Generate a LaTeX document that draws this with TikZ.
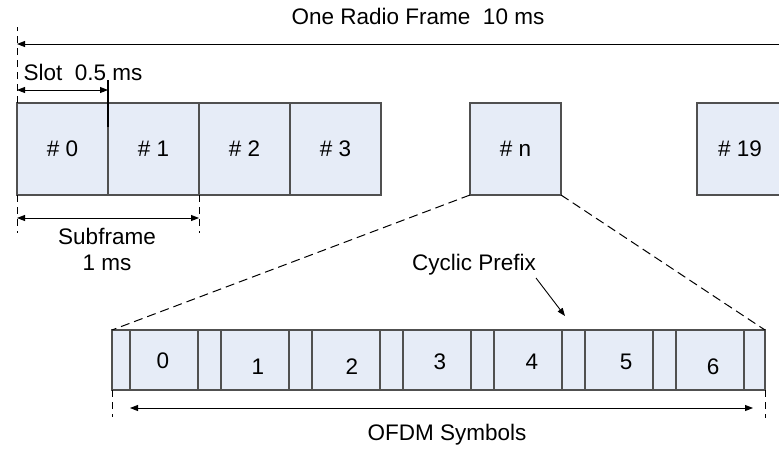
\documentclass[tikz,border=0pt]{standalone}
\usepackage{fontspec}
\setmainfont{Liberation Sans}
\usetikzlibrary{arrows.meta,positioning}
\definecolor{slotfill}{HTML}{E6ECF7}
\definecolor{slotline}{HTML}{505050}

\begin{document}
\begin{tikzpicture}[x=1pt,y=-1pt,
  every node/.style = {font=\fontsize{22.5}{26}\selectfont},
  slot/.style = {draw=slotline, line width=1.2pt, fill=slotfill,
    minimum width=91pt, minimum height=92pt, inner sep=0pt,
    outer sep=0pt, anchor=north west},
  symrow/.style = {draw=slotline, line width=1.2pt, fill=slotfill,
    minimum width=653pt, minimum height=60pt, inner sep=0pt,
    outer sep=0pt, anchor=north west},
  sym/.style = {draw=slotline, line width=1.1pt, fill=slotfill,
    minimum width=68pt, minimum height=60pt, inner sep=0pt,
    outer sep=0pt, anchor=north west},
  dim/.style = {line width=0.9pt, {Triangle[length=8pt,width=6pt]}-{Triangle[length=8pt,width=6pt]}},
  guide/.style = {line width=0.9pt, dash pattern=on 7pt off 5pt},
  zoomline/.style = {line width=1pt, dash pattern=on 9pt off 5pt}]
  \useasboundingbox (0,0) rectangle (779,448);

  % frame of subframes
  \node[slot] (s0) at (17,103) {\# 0};
  \node[slot, right=0pt of s0] (s1) {\# 1};
  \node[slot, right=0pt of s1] (s2) {\# 2};
  \node[slot, right=0pt of s2] (s3) {\# 3};
  \node[slot] (sn) at (470,103) {\# n};
  \node[slot, minimum width=100pt] (s19) at (697,103) {\hspace*{-14pt}\# 19};

  % one radio frame
  \node (title) at (418,16) {One Radio Frame\ \ 10 ms};
  \coordinate (frameR) at (790,44);
  \draw[guide] (s0.north west) -- ++(0,-76);
  \draw[line width=0.9pt, {Triangle[length=8pt,width=6pt]}-] (s0.north west |- frameR) -- (frameR);

  % slot
  \node[anchor=west] (slotlbl) at (20,72) {Slot\ \ 0.5 ms};
  \draw[dim] ([yshift=13pt]s0.north west) -- ([yshift=13pt]s1.north west);
  \draw[line width=1.3pt] ([yshift=23pt]s1.north west) -- ++(0,47);

  % subframe
  \draw[guide] (s0.south west) -- ++(0,38);
  \draw[guide] (s1.south east) -- ++(0,38);
  \draw[dim] ([yshift=-23pt]s0.south west) -- ([yshift=-23pt]s1.south east);
  \node[align=center] (sublbl) at (107,249) {Subframe\\1 ms};

  % OFDM symbols of one slot
  \node[symrow] (row) at (112,330) {};
  \foreach \i/\dx/\dy in {0/-1/1,1/3/7,2/6/7,3/3/2,4/4/2,5/7/2,6/3/7} {
    \node[sym] (o\i) at (130+91*\i,330) {};
    \node (n\i) at ([shift={(\dx,\dy)}]o\i.center) {\i};
  }
  \draw[zoomline] (sn.south west) -- (row.north west);
  \draw[zoomline] (sn.south east) -- (row.north east);

  % cyclic prefix
  \node (cp) at (474,265) {Cyclic Prefix};
  \coordinate (cptip) at (565,316);
  \draw[line width=0.9pt, -{Triangle[length=8pt,width=6pt]}] (536,278) -- (cptip);

  % symbols span
  \draw[guide] (row.south west) -- ++(0,27);
  \draw[guide] (row.south east) -- ++(0,28);
  \coordinate (ofL) at (130,408);
  \coordinate (ofR) at (753,408);
  \draw[dim] (ofL) -- (ofR);
  \node (oflbl) at (447,435) {OFDM Symbols};
\end{tikzpicture}
\end{document}
